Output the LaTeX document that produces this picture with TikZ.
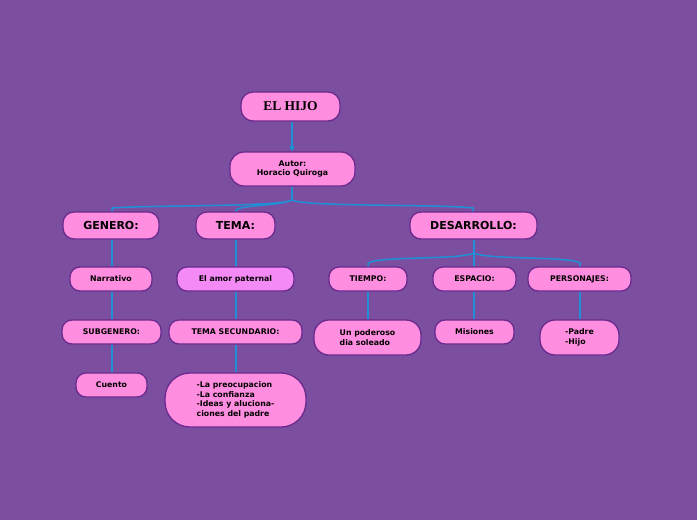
\documentclass[tikz,border=0pt]{standalone}
\usepackage{fontspec}
\setmainfont{DejaVu Sans}
\newfontfamily\titlefont{Liberation Serif}
\usetikzlibrary{arrows.meta}
\definecolor{bgpurple}{HTML}{7B4EA0}
\definecolor{boxpink}{HTML}{FF8EE0}
\definecolor{boxviolet}{HTML}{F38AF5}
\definecolor{boxedge}{HTML}{6A2A8E}
\definecolor{linkblue}{HTML}{1F8FD6}
\tikzset{
  box/.style={draw=boxedge, line width=1.3pt, fill=boxpink, inner sep=0pt,
    font=\bfseries\fontsize{7.8}{9.6}\selectfont, align=center, text=black},
  big/.style={box, font=\bfseries\fontsize{11}{13}\selectfont},
  link/.style={draw=linkblue, line width=1.5pt},
}
\begin{document}
\begin{tikzpicture}[x=1pt,y=-1pt]
\fill[bgpurple] (0,0) rectangle (697,520);
\useasboundingbox (0,0) rectangle (697,520);
% level 0/1
\node[box, minimum width=99pt, minimum height=29pt, rounded corners=12pt,
  font=\titlefont\bfseries\fontsize{13.5}{15}\selectfont] (title) at (290.5,106.5) {EL HIJO};
\node[box, minimum width=125pt, minimum height=34pt, rounded corners=14pt] (autor) at (292.5,169) {Autor:\\Horacio Quiroga};
% level 2
\node[big, minimum width=96pt, minimum height=27pt, rounded corners=11pt] (genero) at (111,225.5) {GENERO:};
\node[big, minimum width=79pt, minimum height=27pt, rounded corners=11pt] (tema) at (235.5,225.5) {TEMA:};
\node[big, minimum width=127pt, minimum height=27pt, rounded corners=11pt] (desarrollo) at (473.5,225.5) {DESARROLLO:};
% level 3
\node[box, minimum width=82pt, minimum height=24pt, rounded corners=10pt] (narrativo) at (111,279) {Narrativo};
\node[box, fill=boxviolet, minimum width=117pt, minimum height=24pt, rounded corners=10pt] (amor) at (235.5,279) {El amor paternal};
\node[box, minimum width=78pt, minimum height=24pt, rounded corners=10pt] (tiempo) at (368,279) {TIEMPO:};
\node[box, minimum width=83pt, minimum height=24pt, rounded corners=10pt] (espacio) at (474.5,279) {ESPACIO:};
\node[box, minimum width=103pt, minimum height=24pt, rounded corners=10pt] (personajes) at (579.5,279) {PERSONAJES:};
% level 4
\node[box, minimum width=99pt, minimum height=24pt, rounded corners=10pt] (subgenero) at (111.5,332) {SUBGENERO:};
\node[box, minimum width=133pt, minimum height=24pt, rounded corners=10pt] (temasec) at (235.5,332) {TEMA SECUNDARIO:};
\node[box, minimum width=107pt, minimum height=35pt, rounded corners=15pt, align=left] (poderoso) at (367.5,337.5) {Un poderoso\\dia soleado};
\node[box, minimum width=79pt, minimum height=24pt, rounded corners=10pt] (misiones) at (474.5,332) {Misiones};
\node[box, minimum width=79pt, minimum height=35pt, rounded corners=15pt, align=left] (padre) at (579.5,337.5) {-Padre\\-Hijo};
% level 5
\node[box, minimum width=71pt, minimum height=24pt, rounded corners=10pt] (cuento) at (111.5,385) {Cuento};
\node[box, minimum width=141pt, minimum height=54pt, rounded corners=25pt, align=left] (preocup) at (235.5,400) {-La preocupacion\\-La confianza\\-Ideas y aluciona-\\ciones del padre};
% connectors
\draw[link, -{Triangle[length=5pt,width=5.5pt]}] (title.south -| 292,0) -- (autor.north -| 292,0);
\coordinate (hub1) at (292,200);
\draw[link] (autor.south -| 292,0) -- (hub1);
\draw[link] (hub1) .. controls (280,207) and (150,205) .. (112,208) -- (genero.north -| 112,0);
\draw[link] (hub1) .. controls (280,206) and (240,205) .. (236,210) -- (tema.north -| 236,0);
\draw[link] (hub1) .. controls (305,207) and (440,204) .. (473,208) -- (desarrollo.north -| 473,0);
\coordinate (hub2) at (474,253);
\draw[link] (desarrollo.south -| 474,0) -- (hub2);
\draw[link] (hub2) .. controls (460,260) and (380,256) .. (368,263) -- (tiempo.north);
\draw[link] (hub2) -- (espacio.north -| 474,0);
\draw[link] (hub2) .. controls (488,260) and (570,256) .. (580,263) -- (personajes.north -| 580,0);
\draw[link] (genero.south -| 112,0) -- (narrativo.north -| 112,0);
\draw[link] (narrativo.south -| 112,0) -- (subgenero.north -| 112,0);
\draw[link] (subgenero.south -| 112,0) -- (cuento.north -| 112,0);
\draw[link] (tema.south -| 236,0) -- (amor.north -| 236,0);
\draw[link] (amor.south -| 236,0) -- (temasec.north -| 236,0);
\draw[link] (temasec.south -| 236,0) -- (preocup.north -| 236,0);
\draw[link] (tiempo.south) -- (poderoso.north -| tiempo.south);
\draw[link] (espacio.south -| 474,0) -- (misiones.north -| 474,0);
\draw[link] (personajes.south -| 580,0) -- (padre.north -| 580,0);
\end{tikzpicture}
\end{document}
